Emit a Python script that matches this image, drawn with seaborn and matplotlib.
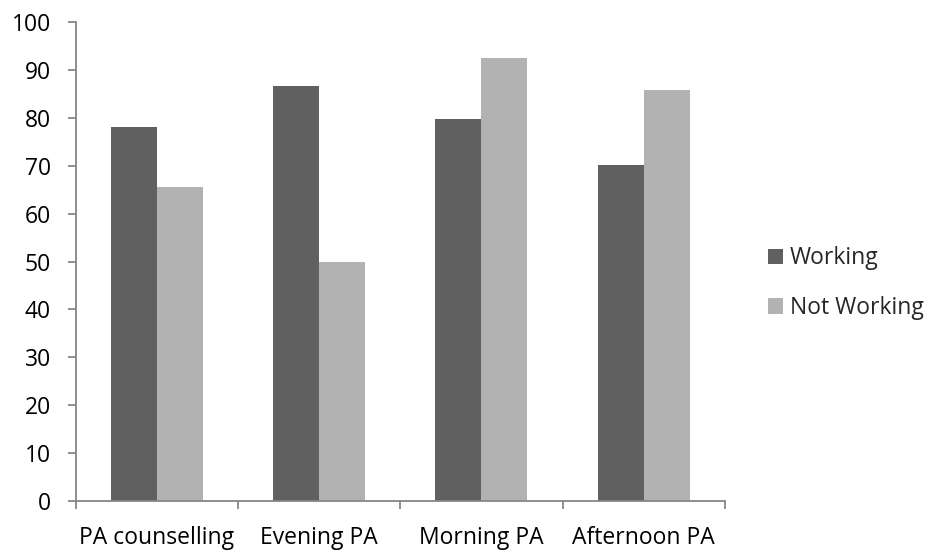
import matplotlib
matplotlib.use("Agg")
import matplotlib.pyplot as plt
import numpy as np
import pandas as pd
import seaborn as sns
from matplotlib.patches import Patch

# 数据
categories = ["PA counselling", "Evening PA", "Morning PA", "Afternoon PA"]
working = [78.1, 86.7, 79.7, 70.1]
not_working = [65.5, 49.9, 92.4, 85.8]
series = ["Working", "Not Working"]

C_DARK = "#606060"
C_LIGHT = "#B2B2B2"
C_AXIS = "#868686"
FS = 16.5

sns.set_theme(style="white")
plt.rcParams['font.family'] = ['Open Sans', 'DejaVu Sans']

df = pd.DataFrame({
    "category": categories * 2,
    "value": working + not_working,
    "group": [series[0]] * len(categories) + [series[1]] * len(categories),
})

fig = plt.figure(figsize=(9.31, 5.51), dpi=100)
ax = fig.add_axes([0.0816, 0.0907, 0.6968, 0.8693])

sns.barplot(data=df, x="category", y="value", hue="group", hue_order=series,
            order=categories, palette=[C_DARK, C_LIGHT], width=0.568, gap=0,
            saturation=1, edgecolor="none", linewidth=0, ax=ax, legend=False)

ax.set_ylim(0, 100)
ax.set_xlim(-0.5, len(categories) - 0.5)
ax.set_yticks(np.arange(0, 101, 10))
ax.set_xlabel("")
ax.set_ylabel("")

for s in ["top", "right"]:
    ax.spines[s].set_visible(False)
for s in ["left", "bottom"]:
    ax.spines[s].set_color(C_AXIS)
    ax.spines[s].set_linewidth(1.3)

ax.tick_params(axis="y", direction="out", length=6, width=1.3, color=C_AXIS,
               pad=12, labelsize=FS, labelcolor="black", left=True)
ax.tick_params(axis="x", which="major", length=0, pad=18, labelsize=FS,
               labelcolor="black")
ax.set_xticks(np.arange(-0.5, len(categories)), minor=True)
ax.tick_params(axis="x", which="minor", direction="out", length=6, width=1.3,
               color=C_AXIS, bottom=True)

handles = [Patch(facecolor=c, edgecolor="none") for c in [C_DARK, C_LIGHT]]
fig.legend(handles, series, loc="center left", bbox_to_anchor=(0.803, 0.486),
           frameon=False, fontsize=FS, handlelength=0.65, handleheight=0.65,
           handletextpad=0.3, labelspacing=1.12)

fig.savefig("out.png", dpi=100, facecolor="white")
